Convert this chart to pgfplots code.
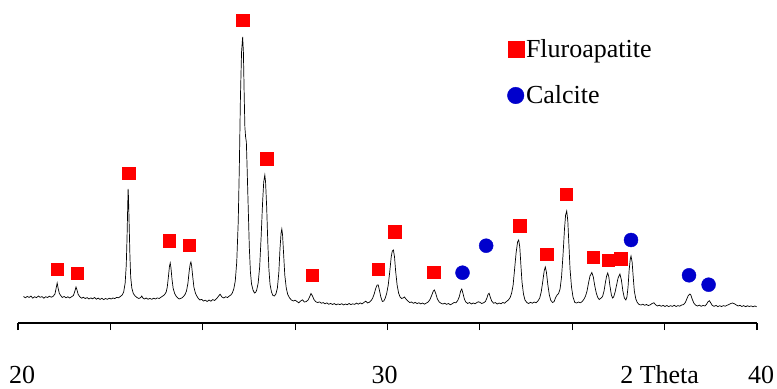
\documentclass[border=0pt]{standalone}
\usepackage{pgfplots}
\pgfplotsset{compat=1.18}
\usepackage{pgfplotstable}
\usepackage{fontspec}
\setmainfont{Liberation Serif}
\definecolor{fa}{RGB}{255,0,0}
\definecolor{ca}{RGB}{0,0,204}
\pgfplotstableread{
x y
20.15 0.5
20.20 -0.8
20.25 0.6
20.30 -0.4
20.35 0.9
20.40 -1.1
20.45 0.2
20.50 -0.7
20.55 1.0
20.60 -0.3
20.65 0.4
20.70 -1.2
20.75 0.3
20.80 -0.5
20.85 0.8
20.90 -0.2
20.95 0.6
21.00 3.0
21.03 8.5
21.06 14.0
21.09 8.0
21.12 3.5
21.16 1.2
21.20 -0.4
21.25 0.5
21.30 -0.8
21.35 0.2
21.40 -1.0
21.45 0.3
21.50 1.5
21.54 6.0
21.57 10.0
21.60 6.5
21.63 2.5
21.67 0.4
21.72 -1.2
21.77 -0.3
21.82 -1.5
21.87 -0.6
21.92 -2.0
21.97 -0.9
22.02 -1.8
22.07 -0.5
22.12 -2.2
22.17 -1.1
22.22 -2.4
22.27 -1.3
22.32 -2.6
22.37 -1.5
22.42 -2.3
22.47 -1.2
22.52 -2.0
22.57 -1.0
22.62 -1.6
22.67 -0.4
22.72 -0.8
22.77 0.5
22.82 2.0
22.86 5.0
22.90 14.0
22.93 32.0
22.95 58.0
22.97 92.0
22.98 108.0
22.99 100.0
23.01 70.0
23.03 40.0
23.05 20.0
23.08 9.0
23.12 3.5
23.17 1.0
23.22 -0.5
23.27 -1.5
23.32 -0.6
23.35 1.0
23.38 -1.0
23.42 -2.0
23.47 -1.0
23.52 -2.2
23.57 -1.4
23.62 -2.3
23.67 -1.2
23.72 -2.0
23.77 -0.9
23.82 -1.5
23.87 -0.2
23.92 1.0
23.97 2.5
24.01 5.0
24.04 10.0
24.07 20.0
24.10 31.0
24.12 34.0
24.14 29.0
24.17 17.0
24.20 8.5
24.24 3.5
24.28 0.8
24.32 -0.8
24.36 -2.0
24.40 -1.4
24.44 -0.8
24.48 0.5
24.52 2.5
24.56 6.0
24.60 14.0
24.63 25.0
24.66 33.0
24.68 35.0
24.70 31.0
24.73 20.0
24.76 10.0
24.80 4.0
24.84 1.0
24.88 -1.5
24.92 -3.0
24.97 -2.4
25.02 -4.0
25.07 -3.2
25.12 -4.5
25.17 -3.0
25.22 -4.2
25.27 -2.6
25.32 -3.5
25.37 -1.8
25.42 0.5
25.47 2.8
25.52 0.0
25.57 -1.0
25.62 0.2
25.67 -0.5
25.72 1.0
25.76 2.0
25.80 4.0
25.84 8.0
25.88 16.0
25.92 35.0
25.96 75.0
25.99 130.0
26.02 200.0
26.05 245.0
26.08 260.0
26.10 245.0
26.12 205.0
26.14 170.0
26.16 160.0
26.18 155.0
26.20 130.0
26.23 90.0
26.26 50.0
26.29 25.0
26.32 13.0
26.36 7.0
26.40 4.0
26.43 4.5
26.46 7.0
26.50 14.0
26.54 30.0
26.58 60.0
26.62 95.0
26.65 115.0
26.68 122.0
26.70 115.0
26.73 90.0
26.76 55.0
26.79 28.0
26.82 13.0
26.86 5.0
26.90 1.5
26.94 1.0
26.98 3.0
27.02 9.0
27.06 25.0
27.09 48.0
27.12 64.0
27.14 68.0
27.16 62.0
27.19 42.0
27.22 22.0
27.26 9.0
27.30 2.5
27.35 -1.0
27.40 -3.0
27.45 -4.0
27.50 -3.2
27.55 -4.5
27.60 -5.8
27.65 -4.0
27.70 -2.8
27.75 -5.0
27.80 -4.6
27.85 -3.0
27.89 0.0
27.93 3.5
27.97 1.0
28.01 -2.5
28.06 -4.8
28.11 -5.5
28.16 -4.9
28.21 -6.2
28.26 -5.6
28.31 -6.8
28.36 -5.9
28.41 -7.3
28.46 -6.4
28.51 -7.5
28.56 -6.6
28.61 -7.8
28.66 -6.9
28.71 -7.6
28.76 -6.7
28.81 -7.9
28.86 -7.0
28.91 -7.7
28.96 -6.5
29.01 -7.6
29.06 -6.8
29.11 -7.4
29.16 -6.1
29.21 -7.2
29.26 -5.9
29.31 -6.9
29.36 -5.5
29.41 -4.2
29.46 -6.0
29.51 -5.2
29.56 -3.5
29.60 -1.0
29.64 3.0
29.68 8.5
29.72 12.0
29.75 12.0
29.78 7.0
29.82 0.0
29.86 -4.5
29.90 -4.0
29.94 -1.0
29.98 4.0
30.02 12.0
30.06 25.0
30.10 40.0
30.13 46.0
30.16 47.0
30.19 40.0
30.22 26.0
30.26 12.0
30.30 4.0
30.34 0.0
30.38 -1.5
30.42 -1.0
30.46 0.0
30.50 -2.0
30.55 -4.0
30.60 -5.5
30.65 -5.0
30.70 -6.3
30.75 -5.4
30.80 -6.6
30.85 -5.7
30.90 -6.9
30.95 -6.0
31.00 -7.2
31.05 -6.1
31.10 -5.0
31.15 -2.5
31.20 2.0
31.24 6.0
31.27 7.0
31.31 3.0
31.35 -2.0
31.40 -5.0
31.45 -6.3
31.50 -7.0
31.55 -6.2
31.60 -7.4
31.65 -6.5
31.70 -7.8
31.75 -6.8
31.80 -5.5
31.85 -5.8
31.90 -3.5
31.94 0.0
31.98 6.0
32.01 8.0
32.04 4.0
32.08 -2.0
32.12 -5.0
32.17 -6.5
32.22 -5.5
32.27 -7.0
32.32 -6.0
32.37 -6.8
32.42 -5.5
32.46 -4.8
32.50 -5.3
32.55 -6.5
32.60 -5.8
32.65 -4.5
32.69 -1.0
32.72 2.5
32.75 3.7
32.78 0.0
32.82 -4.0
32.87 -6.2
32.92 -5.6
32.97 -7.0
33.02 -6.0
33.07 -6.8
33.12 -5.5
33.17 -6.2
33.22 -4.5
33.27 -3.0
33.32 -0.5
33.36 4.0
33.40 12.0
33.44 28.0
33.48 44.0
33.52 55.0
33.55 57.0
33.58 50.0
33.61 32.0
33.64 15.0
33.68 3.0
33.72 -3.0
33.77 -5.5
33.82 -6.5
33.87 -5.3
33.92 -6.2
33.97 -5.0
34.02 -5.8
34.07 -4.0
34.12 -1.0
34.16 5.0
34.20 15.0
34.24 26.0
34.27 30.0
34.30 25.0
34.34 12.0
34.38 2.0
34.42 -3.5
34.47 -5.5
34.51 -4.5
34.55 -0.5
34.59 2.0
34.63 3.5
34.67 8.0
34.71 20.0
34.75 42.0
34.79 68.0
34.82 82.0
34.85 86.0
34.88 76.0
34.91 52.0
34.94 28.0
34.98 10.0
35.02 0.0
35.07 -5.5
35.12 -6.0
35.17 -5.0
35.22 -5.8
35.27 -4.5
35.32 -2.0
35.36 1.0
35.40 6.0
35.44 14.0
35.48 21.0
35.53 24.5
35.57 20.0
35.61 11.0
35.65 4.0
35.69 -0.5
35.73 -2.5
35.78 -1.0
35.82 0.5
35.86 6.0
35.90 15.0
35.93 21.0
35.96 24.0
35.99 20.0
36.02 11.0
36.06 2.0
36.09 -1.0
36.12 0.0
36.16 5.0
36.20 12.0
36.24 19.0
36.29 23.0
36.33 17.0
36.37 6.0
36.41 -1.0
36.45 -3.0
36.48 0.0
36.51 10.0
36.54 27.0
36.57 38.0
36.59 41.0
36.62 35.0
36.65 20.0
36.68 6.0
36.72 -2.0
36.76 -5.5
36.81 -7.5
36.86 -8.0
36.91 -7.2
36.96 -8.3
37.01 -7.5
37.06 -8.6
37.11 -7.8
37.16 -6.5
37.21 -5.8
37.26 -7.9
37.31 -9.0
37.36 -8.2
37.41 -9.3
37.46 -8.4
37.51 -9.5
37.56 -8.5
37.61 -9.6
37.66 -8.7
37.71 -9.4
37.76 -8.3
37.81 -9.5
37.86 -8.6
37.91 -9.2
37.96 -8.0
38.01 -7.6
38.06 -5.5
38.10 -2.0
38.14 1.5
38.18 3.0
38.21 2.0
38.25 -2.5
38.29 -6.0
38.34 -8.2
38.39 -9.0
38.44 -8.1
38.49 -9.3
38.54 -8.4
38.59 -9.0
38.63 -7.5
38.67 -5.0
38.71 -3.7
38.75 -6.0
38.79 -8.5
38.84 -9.3
38.89 -8.4
38.94 -9.6
38.99 -8.7
39.04 -9.5
39.09 -8.6
39.14 -9.2
39.19 -8.3
39.24 -7.5
39.29 -6.5
39.34 -6.0
39.39 -6.8
39.44 -8.0
39.49 -9.0
39.54 -8.3
39.59 -9.5
39.64 -8.6
39.69 -9.7
39.74 -8.8
39.79 -9.5
39.84 -8.9
39.89 -9.8
39.94 -9.0
39.99 -9.7
}\xrd
\pgfplotstableread{
x y
21.06 28.0
21.60 23.7
23.00 124.0
24.10 56.3
24.64 52.0
26.08 277.0
26.73 138.3
27.97 22.0
29.75 28.0
30.19 65.3
31.25 24.7
33.58 71.3
34.31 42.7
34.84 103.0
35.56 39.7
35.97 37.0
36.31 38.3
}\fluoro
\pgfplotstableread{
x y
32.03 24.3
32.67 51.3
36.59 57.0
38.16 21.7
38.69 12.3
}\calcite
\begin{document}
\begin{tikzpicture}
\useasboundingbox (-18bp,-66bp) rectangle (759bp,323bp);
\begin{axis}[
  at={(0,0)}, anchor=south west,
  scale only axis, width=739bp, height=316bp,
  xmin=20, xmax=40, ymin=-26, ymax=290,
  axis x line*=bottom, axis y line=none,
  x axis line style={line width=1.2bp},
  xtick={20,22.5,25,27.5,30,32.5,35,37.5,40},
  xticklabels={\hspace*{8bp}20,,,,30\hspace*{6bp},,,2 Theta\hspace*{10bp},\hspace*{8bp}40},
  tick align=outside, xtick pos=bottom,
  major tick length=7bp,
  x tick style={line width=1.2bp, black},
  ytick=\empty,
  xticklabel style={anchor=base, inner sep=0pt, yshift=-53bp, font=\fontsize{26bp}{30bp}\selectfont},
  clip=false,
  legend style={draw=none, fill=none, at={(0.662,0.905)}, anchor=north west,
    font=\fontsize{26bp}{30bp}\selectfont, row sep=23bp, inner sep=0pt},
  legend cell align=left,
  legend image code/.code={\draw[mark repeat=1,#1] plot coordinates {(0bp,0bp)};},
]
\addplot[black, line width=0.7bp, forget plot] table[x=x,y=y] {\xrd};
\addplot[only marks, mark=square*, mark size=6.2bp, draw=fa, fill=fa, forget plot] table[x=x,y=y] {\fluoro};
\addplot[only marks, mark=*, mark size=7bp, draw=ca, fill=ca, forget plot] table[x=x,y=y] {\calcite};
\addlegendimage{only marks, mark=square*, mark size=8bp, draw=fa, fill=fa}
\addlegendentry{Fluroapatite}
\addlegendimage{only marks, mark=*, mark size=8.3bp, draw=ca, fill=ca}
\addlegendentry{Calcite}
\end{axis}
\end{tikzpicture}
\end{document}
